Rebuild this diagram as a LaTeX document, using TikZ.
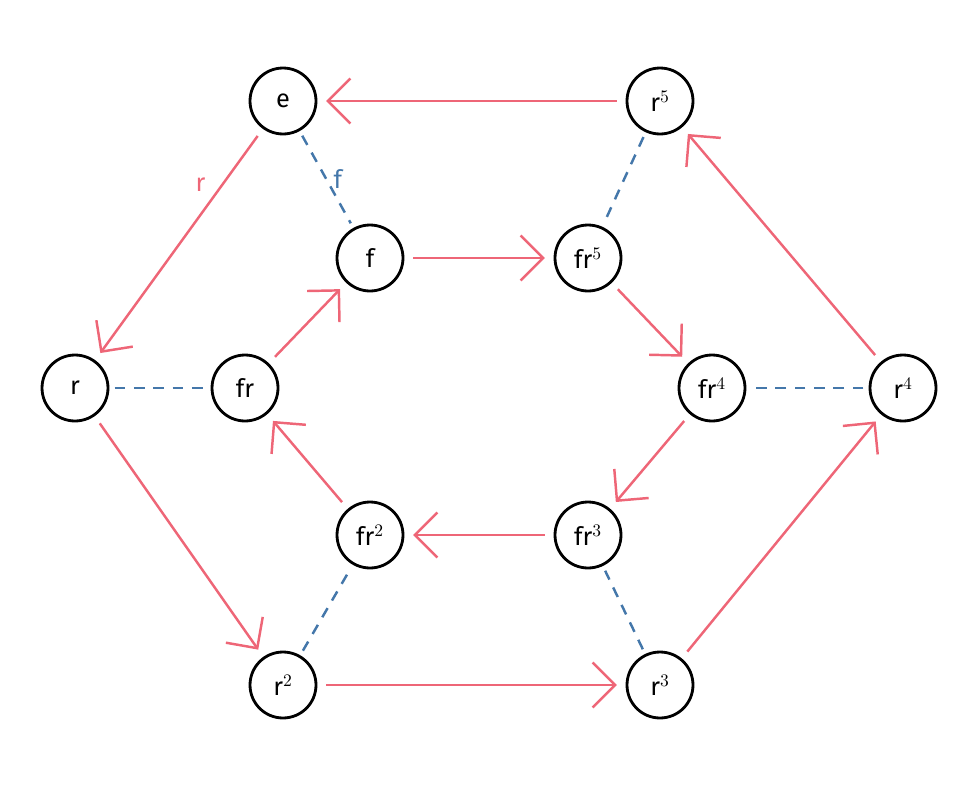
\documentclass[tikz,border=0pt]{standalone}
\usepackage{fontspec}
\setmainfont{Fira Sans}
\usetikzlibrary{arrows.meta}
\definecolor{rosso}{HTML}{EE6677}
\definecolor{blu}{HTML}{4477AA}
\tikzset{
	elem/.style={circle,draw=black,line width=1.6pt,minimum size=1.32cm,inner sep=0pt,font=\Large},
	mul/.style={draw=rosso,line width=1.4pt,-{Straight Barb[length=4.5mm,width=9mm,line width=1.4pt]},shorten <=5pt,shorten >=5pt},
	flip/.style={draw=blu,line width=1.4pt,dashed,dash pattern=on 6pt off 5pt,shorten <=3pt,shorten >=3pt}
}
\begin{document}
\begin{tikzpicture}[x=0.02cm,y=-0.02cm]
			\useasboundingbox (0,0) rectangle (973,791);
			% outer ring
			\node[elem] (e) at (283,101) {e};
			\node[elem] (r5) at (660,101) {r$^5$};
			\node[elem] (r) at (75,388) {r};
			\node[elem] (r4) at (903,388) {r$^4$};
			\node[elem] (r2) at (283,685) {r$^2$};
			\node[elem] (r3) at (660,685) {r$^3$};
			% inner ring
			\node[elem] (f) at (370,258) {f};
			\node[elem] (fr5) at (588,258) {fr$^5$};
			\node[elem] (fr) at (245,388) {fr};
			\node[elem] (fr4) at (712,388) {fr$^4$};
			\node[elem] (fr2) at (370,535) {fr$^2$};
			\node[elem] (fr3) at (588,535) {fr$^3$};
			% rotations
			\draw[mul] (r5)--(e);
			\draw[mul] (e)--node[pos=0.3,above left,text=rosso,font=\Large]{r}(r);
			\draw[mul] (r)--(r2);
			\draw[mul] (r2)--(r3);
			\draw[mul] (r3)--(r4);
			\draw[mul] (r4)--(r5);
			\draw[mul] (f)--(fr5);
			\draw[mul] (fr5)--(fr4);
			\draw[mul] (fr4)--(fr3);
			\draw[mul] (fr3)--(fr2);
			\draw[mul] (fr2)--(fr);
			\draw[mul] (fr)--(f);
			% flips
			\draw[flip] (e)--node[right,text=blu,font=\Large]{f}(f);
			\draw[flip] (r)--(fr);
			\draw[flip] (r5)--(fr5);
			\draw[flip] (r4)--(fr4);
			\draw[flip] (r2)--(fr2);
			\draw[flip] (r3)--(fr3);
		\end{tikzpicture}
\end{document}
